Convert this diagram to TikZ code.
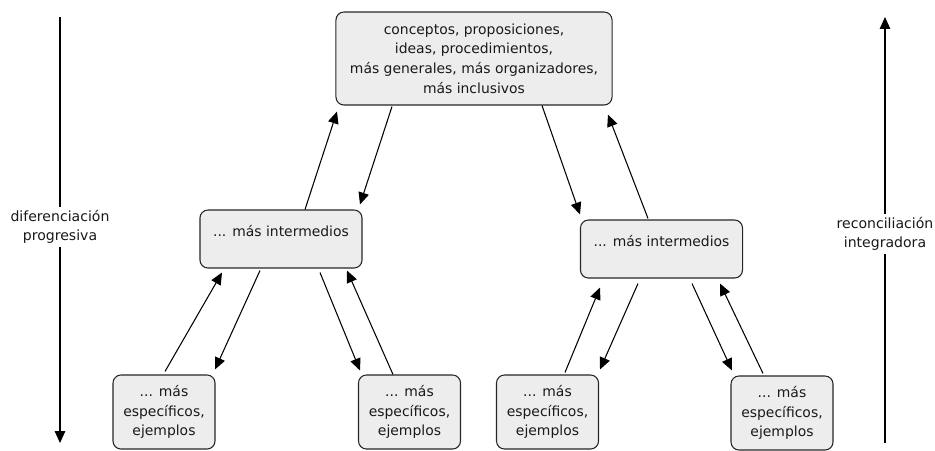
\documentclass[tikz,border=0pt]{standalone}
\usepackage{fontspec}
\setmainfont{DejaVu Sans}
\usetikzlibrary{arrows.meta}
\usetikzlibrary{calc}

\tikzset{
    caja/.style={draw=black!85, line width=0.75pt, fill=black!7,
        rounded corners=0.2cm, align=center, inner sep=0pt,
        text=black!90, font=\fontsize{9.9}{13.9}\selectfont},
    intermedio/.style={caja, minimum width=4.05cm,
        text height=0.65cm, text depth=0.8cm},
    especifico/.style={caja, minimum width=2.55cm, minimum height=1.85cm},
    rotulo/.style={align=center, inner sep=2pt, text=black!90,
        font=\fontsize{10}{13.9}\selectfont},
    flecha/.style={line width=0.75pt, -{Triangle[length=8.5pt,width=7.5pt]}}
}

\begin{document}
\begin{tikzpicture}[x=0.025cm, y=-0.025cm]
        \useasboundingbox (0, 0) rectangle (935, 450);

        % cajas
        \node[caja, minimum width=6.9cm, minimum height=2.325cm] (general) at (474, 58.5)
            {conceptos, proposiciones,\\ideas, procedimientos,\\m\'as generales, m\'as organizadores,\\m\'as inclusivos};
        \node[intermedio] (interA) at (281, 239) {... m\'as intermedios};
        \node[intermedio] (interB) at (661.5, 249) {... m\'as intermedios};
        \node[especifico] (espA) at (164, 412) {... m\'as\\espec\'ificos,\\ejemplos};
        \node[especifico] (espB) at (409.5, 412) {... m\'as\\espec\'ificos,\\ejemplos};
        \node[especifico] (espC) at (547.5, 412) {... m\'as\\espec\'ificos,\\ejemplos};
        \node[especifico] (espD) at (782, 413) {... m\'as\\espec\'ificos,\\ejemplos};

        % flechas entre cajas
        \draw[flecha] ($(interA.north) + (24, 0)$) -- ($(general.south) + (-137, 6)$);
        \draw[flecha] ($(general.south) + (-82, 1)$) -- ($(interA.north) + (79, -5)$);
        \draw[flecha] ($(general.south) + (68, 0)$) -- ($(interB.north) + (-81.5, -5)$);
        \draw[flecha] ($(interB.north) + (-13.5, -1)$) -- ($(general.south) + (134, 9)$);

        \draw[flecha] ($(espA.north) + (1, -3)$) -- ($(interA.south) + (-59, 4)$);
        \draw[flecha] ($(interA.south) + (-21, 2)$) -- ($(espA.north) + (51, -5)$);
        \draw[flecha] ($(interA.south) + (39, 4)$) -- ($(espB.north) + (-49.5, -4)$);
        \draw[flecha] ($(espB.north) + (-16.5, 0)$) -- ($(interA.south) + (66, 2)$);

        \draw[flecha] ($(espC.north) + (17.5, -2)$) -- ($(interB.south) + (-61.5, 9)$);
        \draw[flecha] ($(interB.south) + (-23.5, 5)$) -- ($(espC.north) + (52.5, -5)$);
        \draw[flecha] ($(interB.south) + (30.5, 5)$) -- ($(espD.north) + (-50, -5)$);
        \draw[flecha] ($(espD.north) + (-19, -2)$) -- ($(interB.south) + (58.5, 5)$);

        % ejes laterales
        \coordinate (difArriba) at (60, 17);
        \coordinate (difAbajo) at (60, 443);
        \node[rotulo] (dif) at (60, 227) {diferenciaci\'on\\progresiva};
        \draw[line width=0.75pt] (difArriba) -- (dif);
        \draw[flecha] (dif) -- (difAbajo);

        \coordinate (recAbajo) at (885, 443);
        \coordinate (recArriba) at (885, 17);
        \node[rotulo] (rec) at (885, 234) {reconciliaci\'on\\integradora};
        \draw[line width=0.75pt] (recAbajo) -- (rec);
        \draw[flecha] (rec) -- (recArriba);
    \end{tikzpicture}
\end{document}
